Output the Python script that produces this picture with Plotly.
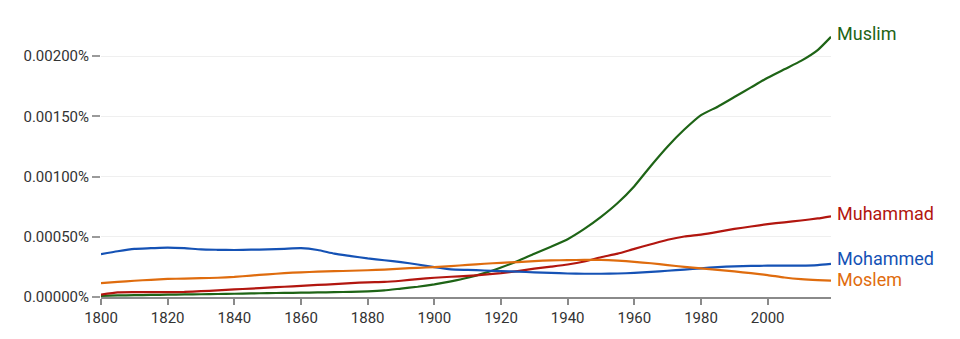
import plotly.graph_objects as go

years = list(range(1800, 2020, 5)) + [2019]

muslim = [0.00001, 0.000013, 0.000015, 0.000017, 0.000019, 0.000021, 0.000023, 0.000025,
          0.000027, 0.00003, 0.000032, 0.000034, 0.000036, 0.000038, 0.00004, 0.000043,
          0.000047, 0.000055, 0.00007, 0.000085, 0.000105, 0.00013, 0.00016, 0.000198,
          0.000245, 0.000298, 0.00036, 0.000418, 0.00048, 0.000565, 0.000665, 0.00078,
          0.00092, 0.00109, 0.00125, 0.00139, 0.00151, 0.00158, 0.00166, 0.00174,
          0.00182, 0.00189, 0.00196, 0.00205, 0.00216]

muhammad = [0.00002, 0.000038, 0.00004, 0.00004, 0.00004, 0.000042, 0.000048, 0.000055,
            0.000063, 0.00007, 0.000078, 0.000085, 0.000092, 0.0001, 0.000107, 0.000115,
            0.000122, 0.000125, 0.000135, 0.000148, 0.00016, 0.000168, 0.000175, 0.000185,
            0.000198, 0.000215, 0.000235, 0.000252, 0.00027, 0.000295, 0.00033, 0.00036,
            0.0004, 0.000438, 0.000475, 0.000502, 0.000518, 0.00054, 0.000565, 0.000585,
            0.000605, 0.00062, 0.000635, 0.000652, 0.00067]

mohammed = [0.000355, 0.00038, 0.0004, 0.000405, 0.00041, 0.000405, 0.000395, 0.000392,
            0.00039, 0.000393, 0.000395, 0.0004, 0.000405, 0.00039, 0.00036, 0.00034,
            0.00032, 0.000305, 0.00029, 0.00027, 0.000248, 0.00023, 0.000225, 0.00022,
            0.000215, 0.00021, 0.000205, 0.0002, 0.000195, 0.000193, 0.000193, 0.000195,
            0.0002, 0.000208, 0.000218, 0.000228, 0.000238, 0.000248, 0.000255, 0.000258,
            0.00026, 0.00026, 0.00026, 0.000265, 0.000275]

moslem = [0.000115, 0.000125, 0.000135, 0.000143, 0.00015, 0.000153, 0.000156, 0.00016,
          0.000167, 0.000178, 0.000188, 0.000198, 0.000205, 0.00021, 0.000214, 0.000218,
          0.000222, 0.000228, 0.000236, 0.000242, 0.000248, 0.000257, 0.000266, 0.000276,
          0.000284, 0.00029, 0.000298, 0.000304, 0.000306, 0.000308, 0.000308, 0.000302,
          0.000292, 0.00028, 0.000265, 0.00025, 0.000238, 0.000225, 0.000212, 0.000198,
          0.000182, 0.000162, 0.000148, 0.00014, 0.000136]

y_ticks = [0, 0.0005, 0.001, 0.0015, 0.002]
y_tick_labels = [f"{v:.5f}%" for v in y_ticks]
x_ticks = [1800, 1820, 1840, 1860, 1880, 1900, 1920, 1940, 1960, 1980, 2000]

series = [
    ("Muslim", muslim, "#1e6416", 3),
    ("Muhammad", muhammad, "#b2160f", 3),
    ("Mohammed", mohammed, "#1552b5", 5),
    ("Moslem", moslem, "#df6c0e", 1),
]

fig = go.Figure()
for name, vals, color, lift in series:
    fig.add_trace(go.Scatter(
        x=years, y=vals, mode="lines", name=name,
        line=dict(color=color, width=2.2, shape="spline", smoothing=0.5),
        hoverinfo="skip",
    ))
    fig.add_annotation(
        x=years[-1], y=vals[-1], text=name, showarrow=False,
        xanchor="left", yanchor="middle", xshift=4, yshift=lift,
        font=dict(family="Roboto", size=18, color=color),
    )

fig.update_layout(
    width=960, height=339,
    margin=dict(l=101, r=129, t=32, b=40),
    paper_bgcolor="white", plot_bgcolor="white",
    showlegend=False,
    font=dict(family="Roboto", size=15, color="#333333"),
)
fig.update_xaxes(
    range=[1800, 2019], tickvals=x_ticks, showgrid=False, zeroline=False,
    showline=True, linecolor="#8a8a8a", linewidth=1.5,
    ticks="outside", ticklen=6, tickcolor="#8a8a8a", tickwidth=1.5,
)
fig.update_yaxes(
    range=[0, 0.0022], tickvals=y_ticks, ticktext=y_tick_labels,
    showgrid=True, gridcolor="#efefef", gridwidth=1, zeroline=False,
    showline=False, ticks="outside", ticklen=8, tickcolor="#9a9a9a", tickwidth=1.5,
)

fig.write_html("out.html")
